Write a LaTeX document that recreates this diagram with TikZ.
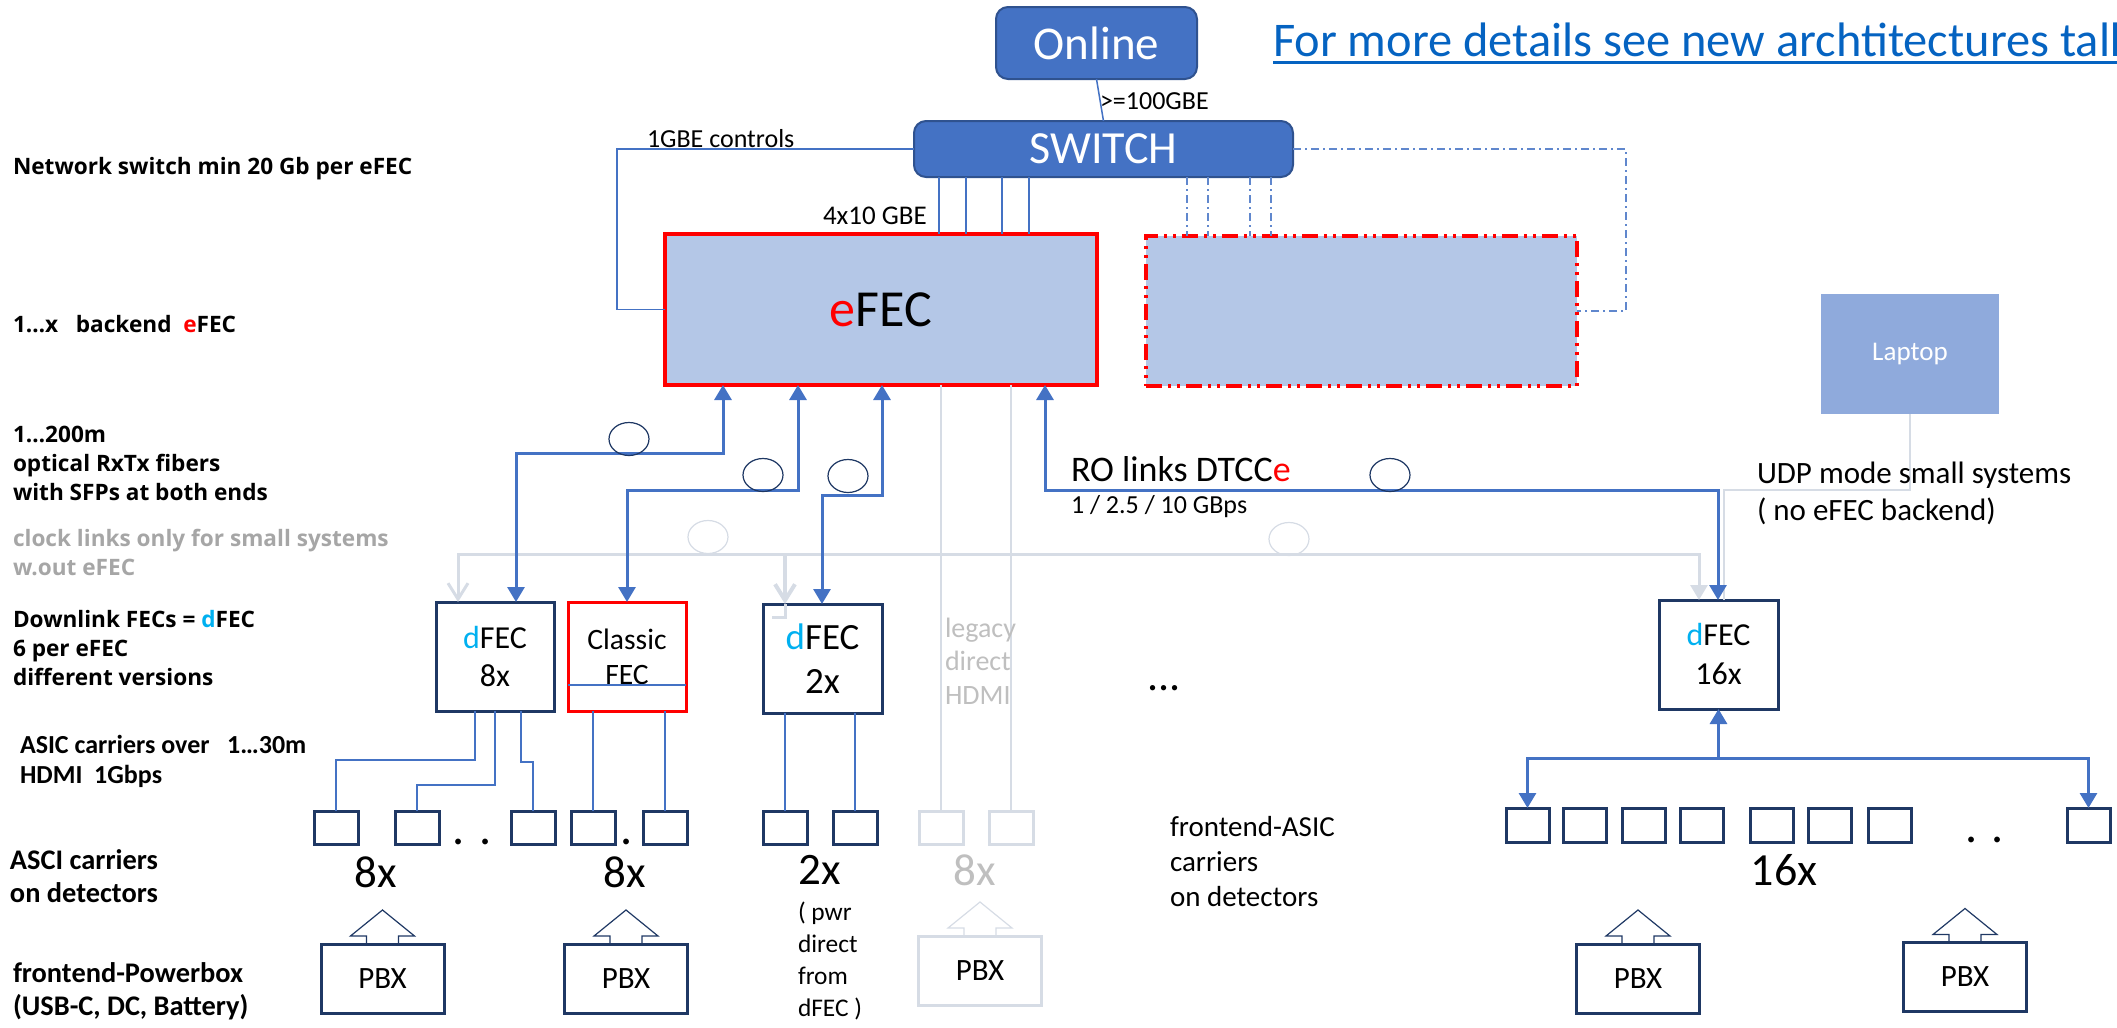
\documentclass[tikz,border=0pt]{standalone}
\usepackage{fontspec}
\setmainfont{Carlito}
\newfontfamily\lblfont{Open Sans}
\usetikzlibrary{arrows.meta,shapes.geometric,calc}
\newcommand\fsz[2]{\fontsize{#1}{#2}\selectfont}
\definecolor{blueL}{HTML}{4472C4}
\definecolor{swb}{HTML}{2F528F}
\definecolor{navy}{HTML}{1F3864}
\definecolor{efecfill}{HTML}{B4C7E7}
\definecolor{grayL}{HTML}{D6DCE5}
\definecolor{lgray}{HTML}{BFBFBF}
\definecolor{mgray}{HTML}{A6A6A6}
\definecolor{cyanc}{HTML}{00B0F0}
\definecolor{laptopc}{HTML}{8FAADC}
\definecolor{linkblue}{HTML}{0563C1}
\newcommand\pbxup[2]{\draw[#2] ($(#1.north)+(-16,0)$) -- ++(0,-8) -- ++(-16,0) -- ++(32,-26) -- ++(32,26) -- ++(-16,0) -- ++(0,8);}
\begin{document}
\begin{tikzpicture}[x=0.5pt,y=-0.5pt,
  every node/.style={inner sep=0pt,outer sep=0pt},
  txt/.style={anchor=west,align=left},
  lbl/.style={txt,font=\lblfont\bfseries\fsz{11.3}{14.5}},
  lbl2/.style={txt,font=\bfseries\fsz{14.2}{16.5}},
  rbox/.style={draw=swb,fill=blueL,line width=1pt,rounded corners=6pt,text=white},
  box/.style={draw=navy,line width=1.5pt,fill=white},
  sbox/.style={box,minimum width=22pt,minimum height=16.5pt},
  tbox/.style={box,minimum width=21.5pt,minimum height=17pt},
  gbox/.style={sbox,draw=grayL},
  pbx/.style={box,minimum width=61.5pt,minimum height=34.5pt,font=\fsz{15.5}{18}},
  fecbox/.style={box,minimum width=59pt,minimum height=54.5pt,align=center},
  thinblue/.style={draw=blueL,line width=0.75pt},
  thickblue/.style={draw=blueL,line width=1.5pt},
  tri/.tip={Triangle[width=8.5pt,length=7.5pt]},
  barb/.tip={Straight Barb[width=10pt,length=8pt]},
  bluearr/.style={thickblue,tri-tri},
  dashblue/.style={draw=blueL!85,line width=0.75pt,dash pattern=on 4pt off 2pt on 1pt off 2pt},
  grayline/.style={draw=grayL,line width=0.75pt},
  graythick/.style={draw=grayL,line width=1.5pt},
  ring/.style={ellipse,draw=navy,line width=0.6pt,minimum width=20pt,minimum height=16.5pt},
  gring/.style={ring,draw=grayL},
  blk/.style={draw=navy,line width=0.6pt},
  gblk/.style={draw=grayL,line width=0.6pt},
  cnt/.style={font=\fsz{22.5}{26}}
]
\useasboundingbox (0,0) rectangle (2117,1028);

% ---------- top ----------
\node[rbox,minimum width=100.5pt,minimum height=36pt,font=\fsz{23.5}{28}] (online) at (1096.5,43) {Online};
\node[rbox,minimum width=189.5pt,minimum height=28pt,font=\fsz{23}{28}] (switch) at (1103.5,149) {SWITCH};
\node[txt,text=linkblue,font=\fsz{24.2}{29}] (link) at (1273,40) {For more details see new archtitectures talk};
\draw[linkblue,line width=1.5pt] ($(link.base west)+(0,6)$) -- ($(link.base east)+(0,6)$);
\node[txt,font=\fsz{13}{16}] (g100) at (1100,101) {>=100GBE};
\node[txt,font=\fsz{13}{16}] (ctrl) at (647,139) {1GBE controls};
\node[txt,font=\fsz{13.5}{16}] (g4) at (823,216) {4x10 GBE};

\node[draw=red,line width=1.6pt,fill=efecfill,minimum width=216pt,minimum height=75.5pt,font=\fsz{26}{30}] (efec) at (881,309.5) {\textcolor{red}{e}FEC};
\node[draw=red,line width=2pt,dash pattern=on 8pt off 3pt on 1.5pt off 3pt on 1.5pt off 3pt,fill=efecfill,minimum width=215.5pt,minimum height=75pt] (ghost) at (1361.5,311) {};
\node[fill=laptopc,minimum width=89pt,minimum height=60pt,text=white,font=\fsz{13.5}{16}] (laptop) at (1910,354) {Laptop};

\draw[thinblue] (online.south) -- (switch.north);
\coordinate (cl) at (617,0);
\draw[thinblue] (switch.west) -| (cl |- efec.west) -- (efec.west);
\foreach \x in {939,966,1002,1029} \draw[thinblue] (switch.south -| \x,0) -- (efec.north -| \x,0);
\foreach \x in {1187,1208,1250,1271} \draw[dashblue] (switch.south -| \x,0) -- (ghost.north -| \x,0);
\coordinate (cr) at (1626,0);
\draw[dashblue] (switch.east) -| (cr |- ghost.east) -- (ghost.east);

% ---------- left labels ----------
\node[lbl] (l1) at (13,169) {Network switch min 20 Gb per eFEC};
\node[lbl] (l2) at (13,324) {1…x\ \ \ backend\ \ \textcolor{red}{e}FEC};
\node[lbl] (l3) at (13,463) {1…200m\\optical RxTx fibers\\with SFPs at both ends};
\node[lbl,text=mgray] (l4) at (13,552) {clock links only for small systems\\w.out eFEC};
\node[lbl] (l5) at (13,648) {Downlink FECs = \textcolor{cyanc}{d}FEC\\6 per eFEC\\different versions};
\node[txt,font=\bfseries\fsz{13}{15}] (l6) at (20,761) {ASIC carriers over\ \ \ 1…30m\\HDMI\ \ 1Gbps};
\node[lbl2] (l7) at (10,876) {ASCI carriers\\on detectors};
\node[lbl2] (l8) at (13,991) {frontend-Powerbox\\(USB-C, DC, Battery)};

% ---------- FEC boxes ----------
\node[fecbox,font=\fsz{16}{19}] (d8) at (495,656.5) {\textcolor{cyanc}{d}FEC\\8x};
\node[fecbox,draw=red,font=\fsz{14.8}{17.5}] (classic) at (627,656.5) {Classic\\FEC};
\node[fecbox,minimum width=59.5pt,font=\fsz{18.5}{22}] (d2) at (822.5,658.5) {\textcolor{cyanc}{d}FEC\\2x};
\node[fecbox,minimum width=59.5pt,font=\fsz{16}{19.5}] (d16) at (1718.5,654.5) {\textcolor{cyanc}{d}FEC\\16x};
\draw[thinblue] (classic.west |- 0,685) -- (classic.east |- 0,685);

% ---------- small carrier boxes ----------
\node[sbox] (s1) at (336,827.5) {};
\node[sbox] (s2) at (417,827.5) {};
\node[sbox] (s3) at (533,827.5) {};
\node[sbox] (s4) at (593,827.5) {};
\node[sbox] (s5) at (665,827.5) {};
\node[sbox] (s6) at (785,827.5) {};
\node[sbox] (s7) at (855,827.5) {};
\node[gbox] (g1) at (941,827.5) {};
\node[gbox] (g2) at (1011,827.5) {};
\foreach \i/\x in {1/1527.5,2/1584.5,3/1643.5,4/1701.5,5/1771.5,6/1829.5,7/1889.5,8/2088.5}
  \node[tbox] (t\i) at (\x,825) {};

% ---------- PBX ----------
\node[pbx] (p1) at (382.5,978.5) {PBX};
\node[pbx] (p2) at (626,978.5) {PBX};
\node[pbx,draw=grayL] (p3) at (980,970.5) {PBX};
\node[pbx] (p4) at (1638,978.5) {PBX};
\node[pbx] (p5) at (1965,977) {PBX};
\pbxup{p1}{blk}
\pbxup{p2}{blk}
\pbxup{p3}{gblk}
\pbxup{p4}{blk}
\pbxup{p5}{blk}

% ---------- gray clock / legacy lines ----------
\draw[grayline] (efec.south -| 941,0) -- (g1.north);
\draw[grayline] (efec.south -| 1011,0) -- (g2.north);
\draw[grayline] (laptop.south) |- (1724,490) -- (d16.north -| 1724,0);
\draw[graythick,barb-tri] (d8.north -| 458,0) |- (1699,554) -- (d16.north -| 1699,0);
\coordinate (cb) at (785,554);
\draw[graythick,line width=2pt,-barb] (cb) -- (d2.north -| 785,0);
\draw[graythick] (d2.north -| 785,0) -- ++(0,13) -- ++(-13,0);
\node[gring] (ge1) at (708,537) {};
\node[gring] (ge2) at (1289,539) {};

% ---------- blue optical links ----------
\draw[bluearr] (d8.north -| 516,0) |- (723,453) -- (efec.south -| 723,0);
\draw[bluearr] (classic.north) |- (798,490) -- (efec.south -| 798,0);
\draw[bluearr] (d2.north -| 822,0) |- (882,495) -- (efec.south -| 882,0);
\draw[bluearr] (d16.north -| 1718,0) |- (1045,490) -- (efec.south -| 1045,0);
\node[ring] (e1) at (629,439) {};
\node[ring] (e2) at (763,475) {};
\node[ring] (e3) at (848,476) {};
\node[ring] (e4) at (1390,475) {};

\node[txt,font=\fsz{18}{22}] (ro) at (1071,469) {RO links DTCC\textcolor{red}{e}};
\node[txt,font=\fsz{13}{16}] (gbps) at (1071,507) {1 / 2.5 / 10 GBps};
\node[txt,font=\fsz{15.5}{18.5}] (udp) at (1757,493.5) {UDP mode small systems\\( no eFEC backend)};

% ---------- dFEC to carriers ----------
\draw[thinblue] (d8.south -| 475,0) |- (s1.north |- 0,760) -- (s1.north);
\draw[thinblue] (d8.south -| 495,0) |- (s2.north |- 0,785) -- (s2.north);
\draw[thinblue] (d8.south -| 521,0) |- (s3.north |- 0,762) -- (s3.north);
\draw[thinblue] (classic.south -| 593,0) -- (s4.north);
\draw[thinblue] (classic.south -| 665,0) -- (s5.north);
\draw[thinblue] (d2.south -| 785,0) -- (s6.north);
\draw[thinblue] (d2.south -| 855,0) -- (s7.north);
\draw[bluearr] (t1.north) |- (t8.north |- 0,758) -- (t8.north);
\draw[thickblue,-tri] (d16.south |- 0,758) -- (d16.south);

% ---------- texts lower ----------
\node[txt,text=lgray,font=\fsz{14}{16.75}] (leg) at (945,661) {legacy\\direct\\HDMI};
\node[font=\fsz{22}{26}] (dots) at (1164,688) {...};
\node[font=\fsz{24}{28},anchor=base] (dt1) at (472,844) {. .};
\node[font=\fsz{24}{28},anchor=base] (dt2) at (627,844) {.};
\node[font=\fsz{24}{28},anchor=base] (dt3) at (1984.5,842) {. .};
\node[cnt] (n1) at (376,872) {8x};
\node[cnt] (n2) at (625,872) {8x};
\node[cnt] (n3) at (820,870) {2x};
\node[cnt,text=lgray] (n4) at (975,870) {8x};
\node[font=\fsz{23}{27}] (n5) at (1784,870) {16x};
\node[txt,font=\fsz{12.7}{16}] (pwr) at (798,960.5) {( pwr\\direct\\from\\dFEC )};
\node[txt,font=\fsz{14.5}{17.5}] (fasic) at (1170,862) {frontend-ASIC\\carriers\\on detectors};
\end{tikzpicture}
\end{document}
